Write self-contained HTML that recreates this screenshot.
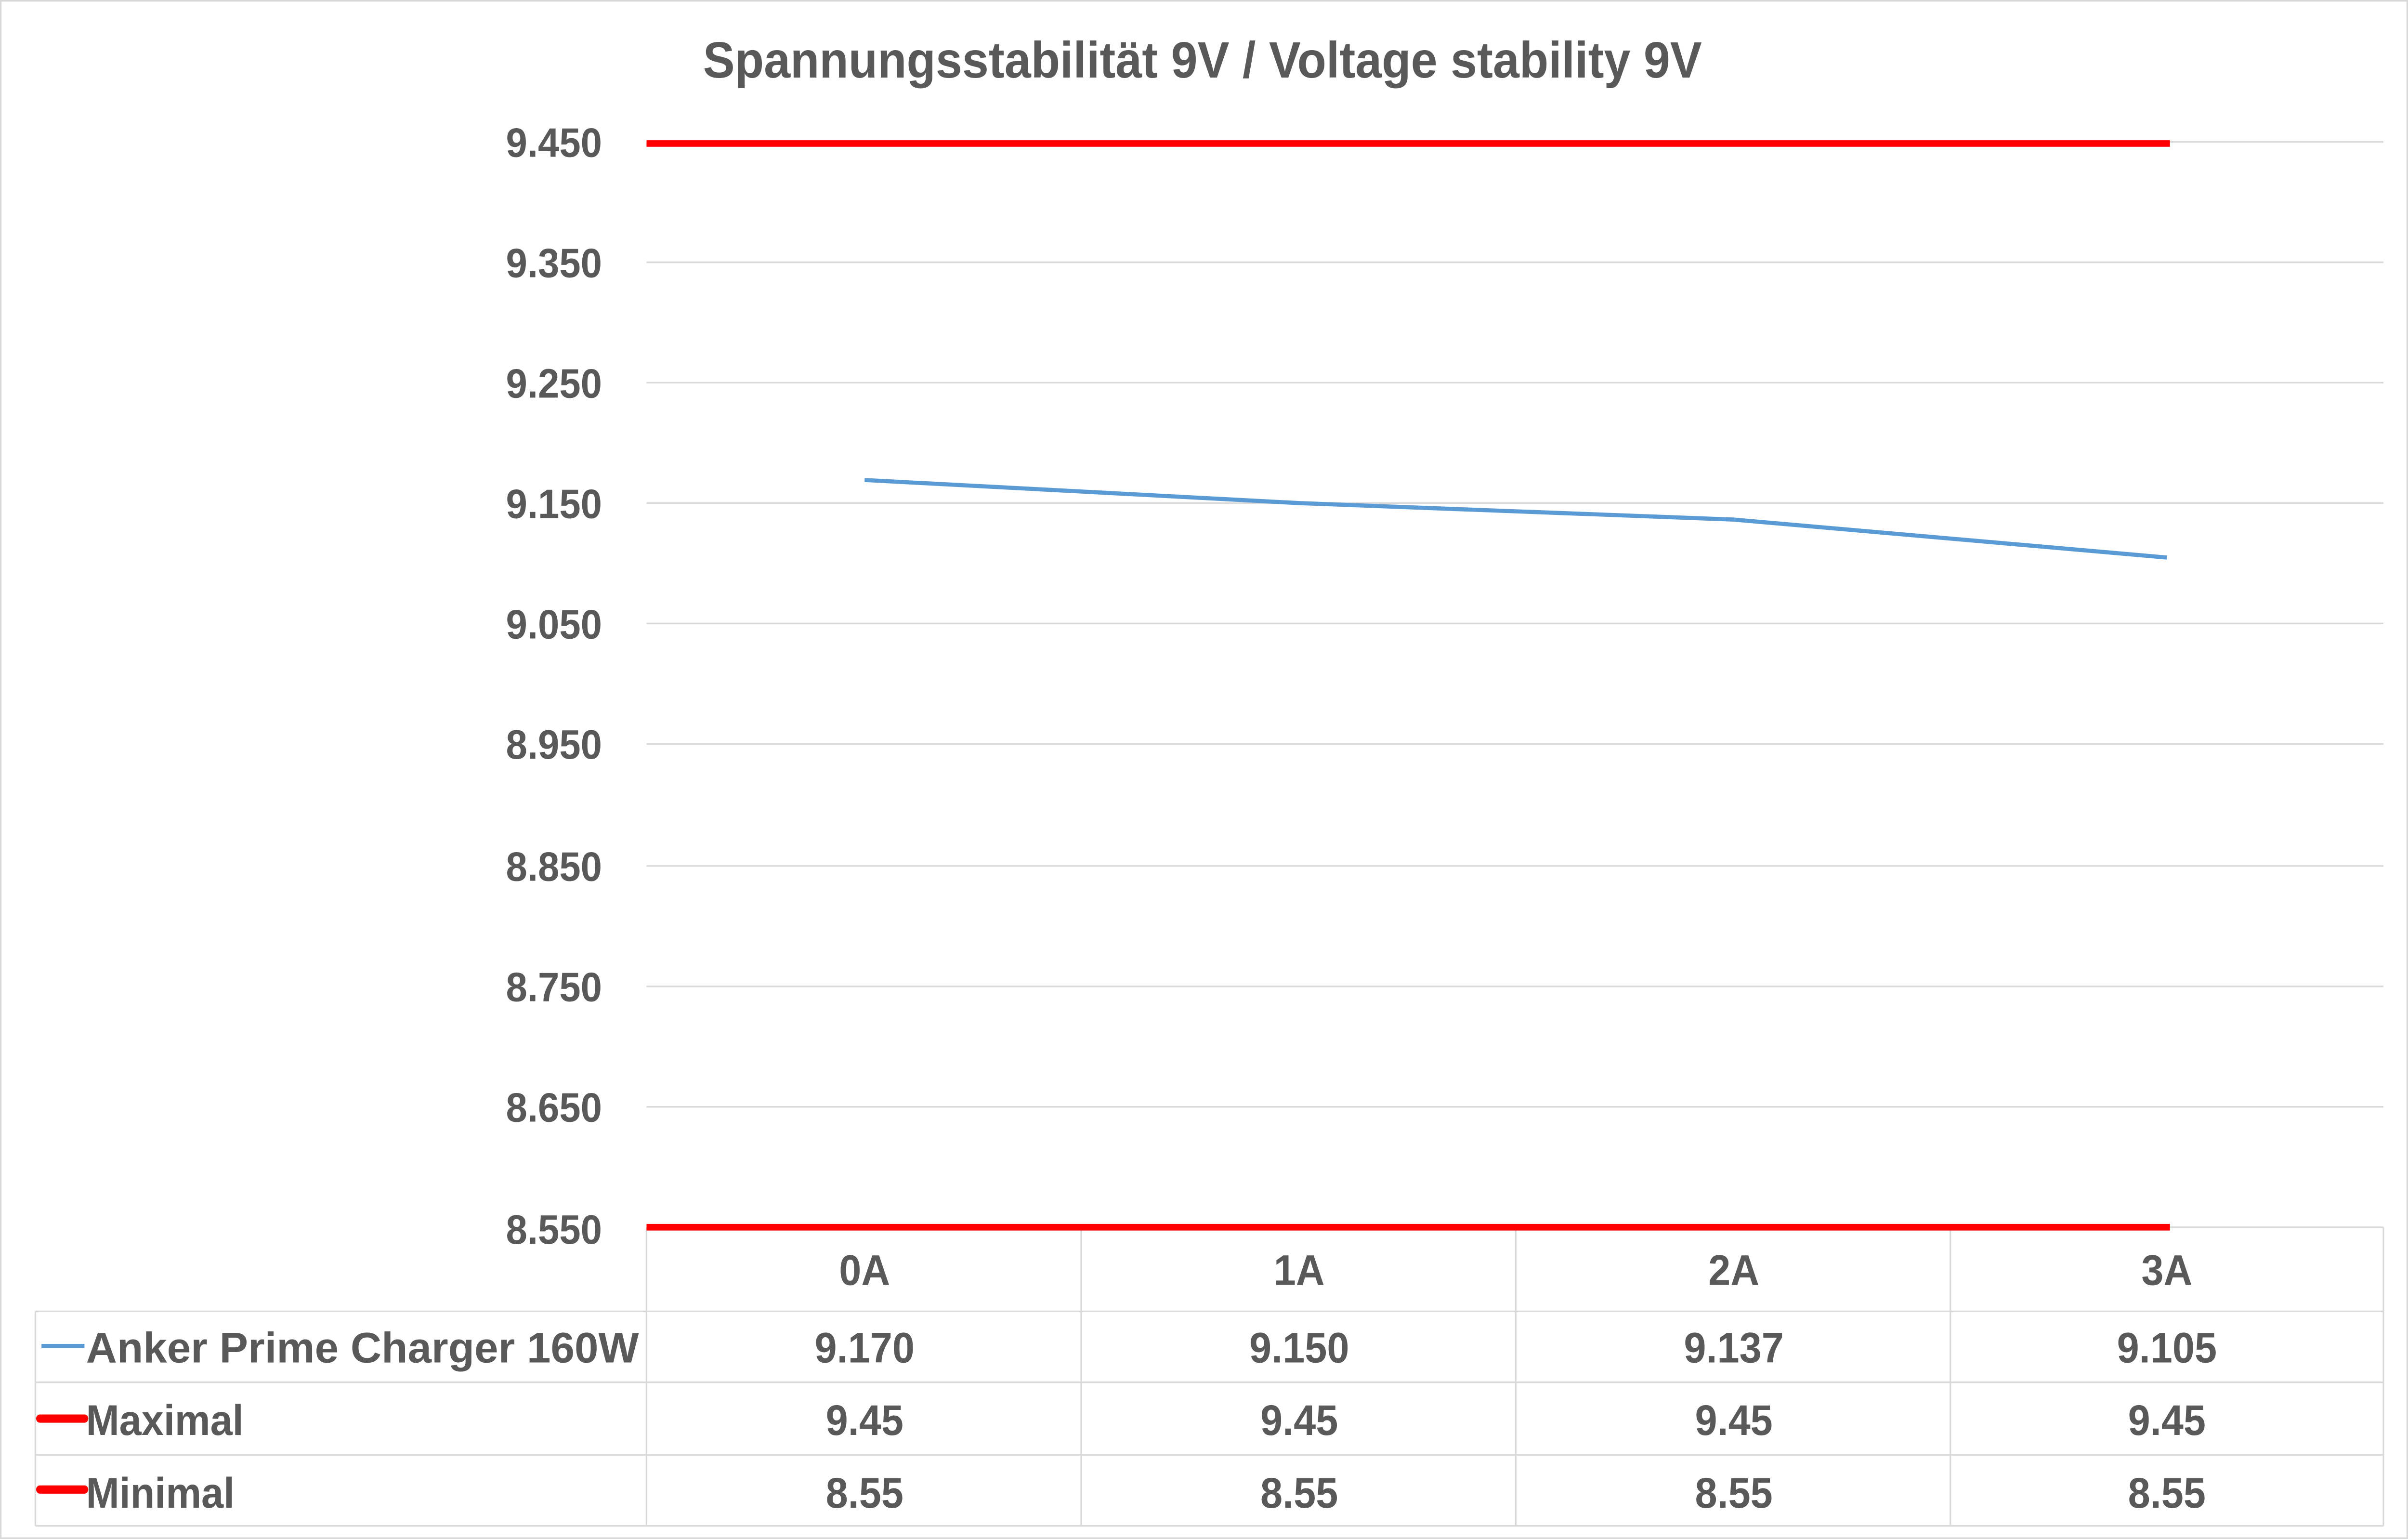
<!DOCTYPE html>
<html><head><meta charset="utf-8"><style>html,body{margin:0;padding:0;background:#fff;width:100vw;height:100vh;overflow:hidden}svg{display:block;position:absolute;left:0;top:0;width:100vw;height:100vh}</style></head>
<body>
<svg viewBox="0 0 1568 933" preserveAspectRatio="none" xmlns="http://www.w3.org/2000/svg">
<g font-family="Liberation Sans, sans-serif" font-weight="bold" fill="#595959">
<rect x="0.5" y="0.5" width="1567" height="932" fill="#fff" stroke="#d9d9d9"/>
<text x="783" y="47" font-size="31" text-anchor="middle">Spannungsstabilität 9V / Voltage stability 9V</text>
<g stroke="#d9d9d9" stroke-width="1">
<line x1="421" y1="86" x2="1552" y2="86"/><line x1="421" y1="159" x2="1552" y2="159"/>
<line x1="421" y1="232" x2="1552" y2="232"/><line x1="421" y1="305" x2="1552" y2="305"/>
<line x1="421" y1="378" x2="1552" y2="378"/><line x1="421" y1="451" x2="1552" y2="451"/>
<line x1="421" y1="525" x2="1552" y2="525"/><line x1="421" y1="598" x2="1552" y2="598"/>
<line x1="421" y1="671" x2="1552" y2="671"/><line x1="421" y1="744" x2="1552" y2="744"/>
<line x1="421" y1="744" x2="421" y2="925"/><line x1="704" y1="744" x2="704" y2="925"/>
<line x1="987" y1="744" x2="987" y2="925"/><line x1="1270" y1="744" x2="1270" y2="925"/>
<line x1="1552" y1="744" x2="1552" y2="925"/><line x1="23" y1="795" x2="23" y2="925"/>
<line x1="23" y1="795" x2="1552" y2="795"/><line x1="23" y1="838" x2="1552" y2="838"/>
<line x1="23" y1="882" x2="1552" y2="882"/><line x1="23" y1="925" x2="1552" y2="925"/>
</g>
<g font-size="25" text-anchor="end">
<text x="392" y="95">9.450</text><text x="392" y="168">9.350</text><text x="392" y="241">9.250</text>
<text x="392" y="314">9.150</text><text x="392" y="387">9.050</text><text x="392" y="460">8.950</text>
<text x="392" y="534">8.850</text><text x="392" y="607">8.750</text><text x="392" y="680">8.650</text>
<text x="392" y="754">8.550</text>
</g>
<line x1="421" y1="87" x2="1413" y2="87" stroke="#ff0000" stroke-width="4"/>
<line x1="421" y1="744" x2="1413" y2="744" stroke="#ff0000" stroke-width="4"/>
<polyline points="563,291 846,305 1129,315 1411,338" fill="none" stroke="#5b9bd5" stroke-width="2.5"/>
<g font-size="26" text-anchor="middle">
<text x="563" y="779">0A</text><text x="846" y="779">1A</text><text x="1129" y="779">2A</text><text x="1411" y="779">3A</text>
<text x="563" y="826">9.170</text><text x="846" y="826">9.150</text><text x="1129" y="826">9.137</text><text x="1411" y="826">9.105</text>
<text x="563" y="870">9.45</text><text x="846" y="870">9.45</text><text x="1129" y="870">9.45</text><text x="1411" y="870">9.45</text>
<text x="563" y="914">8.55</text><text x="846" y="914">8.55</text><text x="1129" y="914">8.55</text><text x="1411" y="914">8.55</text>
</g>
<line x1="27" y1="816" x2="55" y2="816" stroke="#5b9bd5" stroke-width="2.5"/>
<line x1="26" y1="860" x2="55" y2="860" stroke="#ff0000" stroke-width="5" stroke-linecap="round"/>
<line x1="26" y1="903" x2="55" y2="903" stroke="#ff0000" stroke-width="5" stroke-linecap="round"/>
<g font-size="26">
<text x="56" y="826" textLength="360" lengthAdjust="spacingAndGlyphs">Anker Prime Charger 160W</text>
<text x="56" y="870">Maximal</text>
<text x="56" y="914">Minimal</text>
</g>
</g>
</svg>
</body></html>
